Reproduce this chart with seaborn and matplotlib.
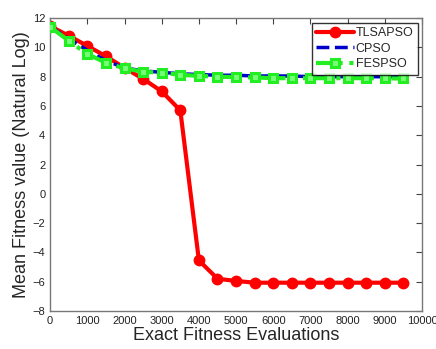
import numpy as np
import pandas as pd
import matplotlib
matplotlib.use("Agg")
import matplotlib.pyplot as plt
import seaborn as sns

sns.set_style("white")
plt.rcParams['font.family'] = ['Liberation Sans', 'DejaVu Sans']

evals = [0, 500, 1000, 1500, 2000, 2500, 3000, 3500, 4000, 4500,
         5000, 5500, 6000, 6500, 7000, 7500, 8000, 8500, 9000, 9500]
tlsapso = [11.45, 10.8, 10.1, 9.4, 8.6, 7.85, 7.0, 5.7, -4.55, -5.8,
           -5.95, -6.07, -6.07, -6.07, -6.07, -6.07, -6.07, -6.07, -6.07, -6.07]
cpso = [11.4, 10.6, 9.8, 9.1, 8.6, 8.4, 8.3, 8.2, 8.15, 8.1,
        8.1, 8.05, 8.05, 8.05, 8.0, 8.0, 8.0, 8.0, 8.0, 8.0]
fespso = [11.4, 10.45, 9.55, 8.95, 8.57, 8.34, 8.27, 8.13, 8.06, 8.0,
          7.97, 7.95, 7.9, 7.9, 7.9, 7.9, 7.9, 7.9, 7.88, 7.88]

df = pd.DataFrame({
    'evals': evals * 3,
    'value': tlsapso + cpso + fespso,
    'method': ['TLSAPSO'] * len(evals) + ['CPSO'] * len(evals) + ['FESPSO'] * len(evals),
})

fig = plt.figure(figsize=(4.36, 3.49), dpi=100)
ax = fig.add_axes([0.115, 0.109, 0.853, 0.839])

styles = {
    'TLSAPSO': dict(color='#FF0000', ls='-', lw=3, marker='o', ms=7.5, mfc='#FF0000', mec='#FF0000', zorder=2),
    'CPSO': dict(color='#0000CC', ls='--', lw=2.5, marker=None, zorder=3),
    'FESPSO': dict(color='#22EE22', ls='-.', lw=3, marker='s', ms=6, mfc='#77FF77', mec='#22EE22', mew=2.2, zorder=4),
}
for name in ['TLSAPSO', 'CPSO', 'FESPSO']:
    st = styles[name]
    sub = df[df['method'] == name]
    kw = dict(linestyle=st['ls'], linewidth=st['lw'], color=st['color'], zorder=st['zorder'])
    if st['marker']:
        kw.update(marker=st['marker'], markersize=st['ms'], markerfacecolor=st['mfc'],
                  markeredgecolor=st['mec'], markeredgewidth=st.get('mew', 1))
    sns.lineplot(data=sub, x='evals', y='value', ax=ax, label=name, **kw)

ax.set_xlim(0, 10000)
ax.set_ylim(-8, 12)
ax.set_xticks(np.arange(0, 10001, 1000))
ax.set_yticks(np.arange(-8, 13, 2))
ax.tick_params(direction='in', length=4, labelsize=8, colors='#444444',
               top=True, right=True, labelcolor='#222222')
for sp in ax.spines.values():
    sp.set_color('#777777')
    sp.set_linewidth(1)

ax.set_xlabel('Exact Fitness Evaluations', fontsize=13, labelpad=1)
ax.set_ylabel('Mean Fitness value (Natural Log)', fontsize=13, labelpad=2)

leg = ax.legend(loc='upper right', fontsize=9, frameon=True, fancybox=False,
                edgecolor='black', borderaxespad=0.35, handlelength=3.0,
                handletextpad=0.15, labelspacing=0.3, borderpad=0.35)
leg.get_frame().set_linewidth(1)

fig.savefig('out.png', dpi=100)
